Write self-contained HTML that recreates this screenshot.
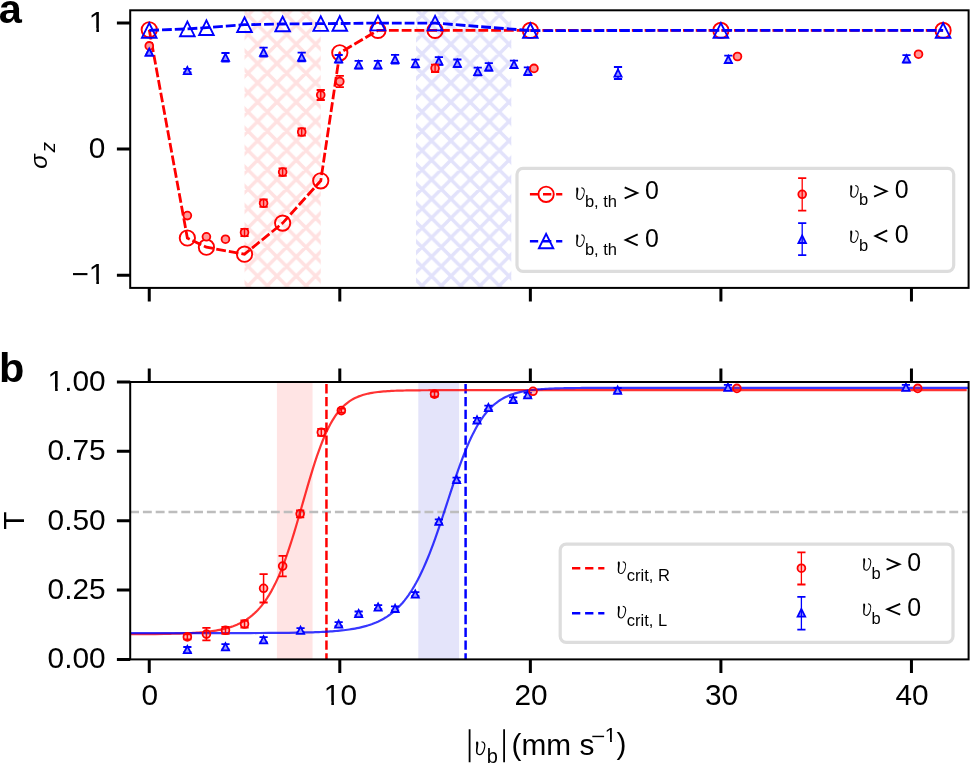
<!DOCTYPE html><html><head><meta charset="utf-8"><title>figure</title><style>html,body{margin:0;padding:0;background:#fff;overflow:hidden;}svg{display:block;will-change:transform;}text{font-family:"Liberation Sans",sans-serif;}</style></head><body>
<svg width="970" height="764" viewBox="0 0 970 764">
<defs>
<pattern id="hr" patternUnits="userSpaceOnUse" x="15.98" y="15.15" width="19.33" height="19.33"><path d="M-9.66 -9.66L28.99 28.99M-9.66 9.66L9.66 28.99M9.66 -9.66L28.99 9.66M-9.66 28.99L28.99 -9.66M-9.66 9.66L9.66 -9.66M9.66 28.99L28.99 9.66" stroke="#ffe1e1" stroke-width="3.5" fill="none"/></pattern>
<pattern id="hb" patternUnits="userSpaceOnUse" x="15.98" y="15.15" width="19.33" height="19.33"><path d="M-9.66 -9.66L28.99 28.99M-9.66 9.66L9.66 28.99M9.66 -9.66L28.99 9.66M-9.66 28.99L28.99 -9.66M-9.66 9.66L9.66 -9.66M9.66 28.99L28.99 9.66" stroke="#e2e2fb" stroke-width="3.5" fill="none"/></pattern>
<clipPath id="ca"><rect x="130.2" y="10.3" width="838.4" height="277.6"/></clipPath>
<clipPath id="cb"><rect x="130.2" y="382" width="838.4" height="277.4"/></clipPath>
</defs>
<g clip-path="url(#ca)">
<rect x="244.53" y="10.3" width="76.22" height="277.6" fill="url(#hr)"/>
<rect x="416.02" y="10.3" width="95.28" height="277.6" fill="url(#hb)"/>
<polyline points="149.25,29.8 187.36,238 206.42,247.2 244.53,254.2 282.64,223.1 320.75,180.8 339.8,52.8 377.91,30.4 435.08,30.4 530.36,30.4" fill="none" stroke="#ff0000" stroke-width="2.8" stroke-dasharray="9.8 2.98"/>
<polyline points="530.36,30.4 720.9,30.4 943.09,30.4" fill="none" stroke="#ff0000" stroke-width="2.8" stroke-dasharray="9.8 2.98" stroke-dashoffset="0.75"/>
<circle cx="149.25" cy="29.8" r="7.65" fill="none" stroke="#ff0000" stroke-width="1.9"/>
<circle cx="187.36" cy="238" r="7.65" fill="none" stroke="#ff0000" stroke-width="1.9"/>
<circle cx="206.42" cy="247.2" r="7.65" fill="none" stroke="#ff0000" stroke-width="1.9"/>
<circle cx="244.53" cy="254.2" r="7.65" fill="none" stroke="#ff0000" stroke-width="1.9"/>
<circle cx="282.64" cy="223.1" r="7.65" fill="none" stroke="#ff0000" stroke-width="1.9"/>
<circle cx="320.75" cy="180.8" r="7.65" fill="none" stroke="#ff0000" stroke-width="1.9"/>
<circle cx="339.8" cy="52.8" r="7.65" fill="none" stroke="#ff0000" stroke-width="1.9"/>
<circle cx="377.91" cy="30.4" r="7.65" fill="none" stroke="#ff0000" stroke-width="1.9"/>
<circle cx="435.08" cy="30.4" r="7.65" fill="none" stroke="#ff0000" stroke-width="1.9"/>
<circle cx="530.36" cy="30.4" r="7.65" fill="none" stroke="#ff0000" stroke-width="1.9"/>
<circle cx="720.9" cy="30.4" r="7.65" fill="none" stroke="#ff0000" stroke-width="1.9"/>
<circle cx="943.09" cy="30.4" r="7.65" fill="none" stroke="#ff0000" stroke-width="1.9"/>
<polyline points="149.25,30.4 187.36,28.9 206.42,27.7 244.53,24.7 282.64,24 320.75,23.6 339.8,23.5 377.91,23.1 435.08,23.1 530.36,30.6" fill="none" stroke="#0000ff" stroke-width="2.8" stroke-dasharray="9.8 2.98"/>
<polyline points="530.36,30.6 720.9,30.4 943.09,30.4" fill="none" stroke="#0000ff" stroke-width="2.8" stroke-dasharray="9.8 2.98" stroke-dashoffset="-0.25"/>
<path d="M149.25 23.1L141.95 37.7L156.56 37.7Z" fill="none" stroke="#0000ff" stroke-width="1.9"/>
<path d="M187.36 21.6L180.06 36.2L194.66 36.2Z" fill="none" stroke="#0000ff" stroke-width="1.9"/>
<path d="M206.42 20.4L199.12 35L213.72 35Z" fill="none" stroke="#0000ff" stroke-width="1.9"/>
<path d="M244.53 17.4L237.23 32L251.83 32Z" fill="none" stroke="#0000ff" stroke-width="1.9"/>
<path d="M282.64 16.7L275.34 31.3L289.94 31.3Z" fill="none" stroke="#0000ff" stroke-width="1.9"/>
<path d="M320.75 16.3L313.45 30.9L328.05 30.9Z" fill="none" stroke="#0000ff" stroke-width="1.9"/>
<path d="M339.8 16.2L332.5 30.8L347.1 30.8Z" fill="none" stroke="#0000ff" stroke-width="1.9"/>
<path d="M377.91 15.8L370.61 30.4L385.21 30.4Z" fill="none" stroke="#0000ff" stroke-width="1.9"/>
<path d="M435.08 15.8L427.78 30.4L442.38 30.4Z" fill="none" stroke="#0000ff" stroke-width="1.9"/>
<path d="M530.36 23.3L523.06 37.9L537.65 37.9Z" fill="none" stroke="#0000ff" stroke-width="1.9"/>
<path d="M720.9 23.1L713.61 37.7L728.2 37.7Z" fill="none" stroke="#0000ff" stroke-width="1.9"/>
<path d="M943.09 23.1L935.79 37.7L950.39 37.7Z" fill="none" stroke="#0000ff" stroke-width="1.9"/>

<path d="M149.25 48.5L145.66 55.7L152.85 55.7Z" fill="#9999ff" stroke="#0000ff" stroke-width="1.8"/>
<path d="M187.36 68.8L187.36 72.4" stroke="#0000ff" stroke-width="1.5"/><path d="M183.26 68.8L191.46 68.8M183.26 72.4L191.46 72.4" stroke="#0000ff" stroke-width="1.8"/>
<path d="M187.36 67L183.76 74.2L190.96 74.2Z" fill="#9999ff" stroke="#0000ff" stroke-width="1.8"/>
<path d="M225.47 53L225.47 61.6" stroke="#0000ff" stroke-width="1.5"/><path d="M221.38 53L229.57 53M221.38 61.6L229.57 61.6" stroke="#0000ff" stroke-width="1.8"/>
<path d="M225.47 53.7L221.88 60.9L229.07 60.9Z" fill="#9999ff" stroke="#0000ff" stroke-width="1.8"/>
<path d="M263.58 47.7L263.58 56.7" stroke="#0000ff" stroke-width="1.5"/><path d="M259.48 47.7L267.69 47.7M259.48 56.7L267.69 56.7" stroke="#0000ff" stroke-width="1.8"/>
<path d="M263.58 48.6L259.98 55.8L267.19 55.8Z" fill="#9999ff" stroke="#0000ff" stroke-width="1.8"/>
<path d="M301.69 52.7L301.69 61.3" stroke="#0000ff" stroke-width="1.5"/><path d="M297.59 52.7L305.8 52.7M297.59 61.3L305.8 61.3" stroke="#0000ff" stroke-width="1.8"/>
<path d="M301.69 53.4L298.09 60.6L305.3 60.6Z" fill="#9999ff" stroke="#0000ff" stroke-width="1.8"/>
<path d="M338.66 55L338.66 62.6" stroke="#0000ff" stroke-width="1.5"/><path d="M334.56 55L342.76 55M334.56 62.6L342.76 62.6" stroke="#0000ff" stroke-width="1.8"/>
<path d="M338.66 55.2L335.06 62.4L342.26 62.4Z" fill="#9999ff" stroke="#0000ff" stroke-width="1.8"/>
<path d="M358.67 60.9L358.67 68.5" stroke="#0000ff" stroke-width="1.5"/><path d="M354.57 60.9L362.77 60.9M354.57 68.5L362.77 68.5" stroke="#0000ff" stroke-width="1.8"/>
<path d="M358.67 61.1L355.07 68.3L362.27 68.3Z" fill="#9999ff" stroke="#0000ff" stroke-width="1.8"/>
<path d="M377.91 60.9L377.91 68.5" stroke="#0000ff" stroke-width="1.5"/><path d="M373.81 60.9L382.01 60.9M373.81 68.5L382.01 68.5" stroke="#0000ff" stroke-width="1.8"/>
<path d="M377.91 61.1L374.31 68.3L381.51 68.3Z" fill="#9999ff" stroke="#0000ff" stroke-width="1.8"/>
<path d="M395.06 54.9L395.06 63.5" stroke="#0000ff" stroke-width="1.5"/><path d="M390.96 54.9L399.16 54.9M390.96 63.5L399.16 63.5" stroke="#0000ff" stroke-width="1.8"/>
<path d="M395.06 55.6L391.46 62.8L398.66 62.8Z" fill="#9999ff" stroke="#0000ff" stroke-width="1.8"/>
<path d="M415.45 59.7L415.45 67.3" stroke="#0000ff" stroke-width="1.5"/><path d="M411.35 59.7L419.55 59.7M411.35 67.3L419.55 67.3" stroke="#0000ff" stroke-width="1.8"/>
<path d="M415.45 59.9L411.85 67.1L419.05 67.1Z" fill="#9999ff" stroke="#0000ff" stroke-width="1.8"/>
<path d="M438.89 57.2L438.89 64.8" stroke="#0000ff" stroke-width="1.5"/><path d="M434.79 57.2L442.99 57.2M434.79 64.8L442.99 64.8" stroke="#0000ff" stroke-width="1.8"/>
<path d="M438.89 57.4L435.29 64.6L442.49 64.6Z" fill="#9999ff" stroke="#0000ff" stroke-width="1.8"/>
<path d="M457.37 59.5L457.37 67.1" stroke="#0000ff" stroke-width="1.5"/><path d="M453.27 59.5L461.47 59.5M453.27 67.1L461.47 67.1" stroke="#0000ff" stroke-width="1.8"/>
<path d="M457.37 59.7L453.77 66.9L460.97 66.9Z" fill="#9999ff" stroke="#0000ff" stroke-width="1.8"/>
<path d="M477.76 67.7L477.76 75.3" stroke="#0000ff" stroke-width="1.5"/><path d="M473.66 67.7L481.86 67.7M473.66 75.3L481.86 75.3" stroke="#0000ff" stroke-width="1.8"/>
<path d="M477.76 67.9L474.16 75.1L481.36 75.1Z" fill="#9999ff" stroke="#0000ff" stroke-width="1.8"/>
<path d="M488.82 63.1L488.82 70.7" stroke="#0000ff" stroke-width="1.5"/><path d="M484.72 63.1L492.92 63.1M484.72 70.7L492.92 70.7" stroke="#0000ff" stroke-width="1.8"/>
<path d="M488.82 63.3L485.22 70.5L492.42 70.5Z" fill="#9999ff" stroke="#0000ff" stroke-width="1.8"/>
<path d="M513.97 60.6L513.97 68.2" stroke="#0000ff" stroke-width="1.5"/><path d="M509.87 60.6L518.07 60.6M509.87 68.2L518.07 68.2" stroke="#0000ff" stroke-width="1.8"/>
<path d="M513.97 60.8L510.37 68L517.57 68Z" fill="#9999ff" stroke="#0000ff" stroke-width="1.8"/>
<path d="M527.88 67.4L527.88 75" stroke="#0000ff" stroke-width="1.5"/><path d="M523.78 67.4L531.98 67.4M523.78 75L531.98 75" stroke="#0000ff" stroke-width="1.8"/>
<path d="M527.88 67.6L524.28 74.8L531.48 74.8Z" fill="#9999ff" stroke="#0000ff" stroke-width="1.8"/>
<path d="M618.01 67L618.01 79" stroke="#0000ff" stroke-width="1.5"/><path d="M613.91 67L622.11 67M613.91 79L622.11 79" stroke="#0000ff" stroke-width="1.8"/>
<path d="M618.01 69.4L614.41 76.6L621.61 76.6Z" fill="#9999ff" stroke="#0000ff" stroke-width="1.8"/>
<path d="M728.34 55.6L728.34 63.2" stroke="#0000ff" stroke-width="1.5"/><path d="M724.24 55.6L732.44 55.6M724.24 63.2L732.44 63.2" stroke="#0000ff" stroke-width="1.8"/>
<path d="M728.34 55.8L724.74 63L731.94 63Z" fill="#9999ff" stroke="#0000ff" stroke-width="1.8"/>
<path d="M906.5 55.1L906.5 62.5" stroke="#0000ff" stroke-width="1.5"/><path d="M902.4 55.1L910.6 55.1M902.4 62.5L910.6 62.5" stroke="#0000ff" stroke-width="1.8"/>
<path d="M906.5 55.2L902.9 62.4L910.1 62.4Z" fill="#9999ff" stroke="#0000ff" stroke-width="1.8"/>
<circle cx="149.25" cy="45.9" r="3.9" fill="#ff9999" stroke="#ff0000" stroke-width="1.8"/>
<circle cx="187.36" cy="215.6" r="3.9" fill="#ff9999" stroke="#ff0000" stroke-width="1.8"/>
<circle cx="206.42" cy="236.8" r="3.9" fill="#ff9999" stroke="#ff0000" stroke-width="1.8"/>
<circle cx="225.47" cy="239.2" r="3.9" fill="#ff9999" stroke="#ff0000" stroke-width="1.8"/>
<path d="M244.53 228.8L244.53 236.2" stroke="#ff0000" stroke-width="1.5"/><path d="M240.43 228.8L248.63 228.8M240.43 236.2L248.63 236.2" stroke="#ff0000" stroke-width="1.8"/>
<circle cx="244.53" cy="232.5" r="3.9" fill="#ff9999" stroke="#ff0000" stroke-width="1.8"/>
<path d="M244.53 228.8L244.53 236.2" stroke="#ff0000" stroke-width="1.4"/>
<path d="M263.58 199.5L263.58 206.9" stroke="#ff0000" stroke-width="1.5"/><path d="M259.48 199.5L267.69 199.5M259.48 206.9L267.69 206.9" stroke="#ff0000" stroke-width="1.8"/>
<circle cx="263.58" cy="203.2" r="3.9" fill="#ff9999" stroke="#ff0000" stroke-width="1.8"/>
<path d="M263.58 199.5L263.58 206.9" stroke="#ff0000" stroke-width="1.4"/>
<path d="M282.64 168.4L282.64 175.8" stroke="#ff0000" stroke-width="1.5"/><path d="M278.54 168.4L286.74 168.4M278.54 175.8L286.74 175.8" stroke="#ff0000" stroke-width="1.8"/>
<circle cx="282.64" cy="172.1" r="3.9" fill="#ff9999" stroke="#ff0000" stroke-width="1.8"/>
<path d="M282.64 168.4L282.64 175.8" stroke="#ff0000" stroke-width="1.4"/>
<path d="M301.69 128.3L301.69 135.7" stroke="#ff0000" stroke-width="1.5"/><path d="M297.59 128.3L305.8 128.3M297.59 135.7L305.8 135.7" stroke="#ff0000" stroke-width="1.8"/>
<circle cx="301.69" cy="132" r="3.9" fill="#ff9999" stroke="#ff0000" stroke-width="1.8"/>
<path d="M301.69 128.3L301.69 135.7" stroke="#ff0000" stroke-width="1.4"/>
<path d="M320.75 90L320.75 100" stroke="#ff0000" stroke-width="1.5"/><path d="M316.65 90L324.85 90M316.65 100L324.85 100" stroke="#ff0000" stroke-width="1.8"/>
<circle cx="320.75" cy="95" r="3.9" fill="#ff9999" stroke="#ff0000" stroke-width="1.8"/>
<path d="M320.75 90L320.75 100" stroke="#ff0000" stroke-width="1.4"/>
<path d="M339.8 75.8L339.8 87.2" stroke="#ff0000" stroke-width="1.5"/><path d="M335.7 75.8L343.9 75.8M335.7 87.2L343.9 87.2" stroke="#ff0000" stroke-width="1.8"/>
<circle cx="339.8" cy="81.5" r="3.9" fill="#ff9999" stroke="#ff0000" stroke-width="1.8"/>
<path d="M435.08 64.6L435.08 72" stroke="#ff0000" stroke-width="1.5"/><path d="M430.98 64.6L439.18 64.6M430.98 72L439.18 72" stroke="#ff0000" stroke-width="1.8"/>
<circle cx="435.08" cy="68.3" r="3.9" fill="#ff9999" stroke="#ff0000" stroke-width="1.8"/>
<path d="M435.08 64.6L435.08 72" stroke="#ff0000" stroke-width="1.4"/>
<circle cx="533.98" cy="68.4" r="3.9" fill="#ff9999" stroke="#ff0000" stroke-width="1.8"/>
<circle cx="737.48" cy="56.5" r="3.9" fill="#ff9999" stroke="#ff0000" stroke-width="1.8"/>
<circle cx="918.51" cy="54.2" r="3.9" fill="#ff9999" stroke="#ff0000" stroke-width="1.8"/>

<path d="M149.25 48.5L145.66 55.7L152.85 55.7Z" fill="#9999ff" stroke="#0000ff" stroke-width="1.8"/>
</g>
<rect x="517" y="168.3" width="436.7" height="103" rx="6" fill="rgba(255,255,255,0.8)" stroke="#dddddd" stroke-width="3.2"/>
<path d="M529.9 194.3L562.3 194.3" stroke="#ff0000" stroke-width="2.4" stroke-dasharray="8.3 4.8"/>
<circle cx="546.1" cy="194.3" r="7.65" fill="none" stroke="#ff0000" stroke-width="1.9"/>
<path d="M529.9 241.3L562.3 241.3" stroke="#0000ff" stroke-width="2.4" stroke-dasharray="8.3 4.8"/>
<path d="M546.1 233.9L538.9 248.3L553.3 248.3Z" fill="none" stroke="#0000ff" stroke-width="1.9"/>
<path d="M802.2 178.1L802.2 210.7" stroke="#ff0000" stroke-width="1.3"/><path d="M798.1 178.1L806.3 178.1M798.1 210.7L806.3 210.7" stroke="#ff0000" stroke-width="1.8"/>
<circle cx="802.2" cy="194.3" r="3.9" fill="rgba(255,0,0,0.4)" stroke="#ff0000" stroke-width="1.8"/>
<path d="M802.2 223.1L802.2 255.2" stroke="#0000ff" stroke-width="1.3"/><path d="M798.1 223.1L806.3 223.1M798.1 255.2L806.3 255.2" stroke="#0000ff" stroke-width="1.8"/>
<path d="M802.2 235.4L798.4 243L806 243Z" fill="rgba(0,0,255,0.4)" stroke="#0000ff" stroke-width="1.8"/>
<g clip-path="url(#cb)">
<rect x="276.92" y="382" width="35.63" height="277.4" fill="#ffe4e4"/>
<rect x="418.31" y="382" width="40.78" height="277.4" fill="#e4e4fa"/>
<path d="M130.2 512L968.6 512" stroke="#bdbdbd" stroke-width="2.6" stroke-dasharray="8.9 3.9" stroke-dashoffset="0.1"/>
<path d="M326.45 382L326.45 659.4" stroke="#ff0000" stroke-width="2.5" stroke-dasharray="9.3 3.52" stroke-dashoffset="-2.1"/>
<path d="M465.6 382L465.6 659.4" stroke="#0000ff" stroke-width="2.5" stroke-dasharray="9.3 3.52" stroke-dashoffset="-2.1"/>
<polyline points="126.39,634.23 135.92,634.19 145.44,634.14 154.97,634.06 164.5,633.93 166.4,633.89 168.31,633.86 170.22,633.82 172.12,633.77 174.03,633.73 175.93,633.68 177.84,633.62 179.74,633.56 181.65,633.49 183.55,633.42 185.46,633.34 187.37,633.26 189.27,633.17 191.18,633.06 193.08,632.95 194.99,632.83 196.89,632.7 198.8,632.56 200.7,632.4 202.61,632.23 204.51,632.05 206.42,631.85 208.33,631.63 210.23,631.39 212.14,631.13 214.04,630.85 215.95,630.54 217.85,630.2 219.76,629.83 221.66,629.44 223.57,629 225.48,628.53 227.38,628.01 229.29,627.45 231.19,626.84 233.1,626.18 235,625.45 236.91,624.67 238.81,623.81 240.72,622.88 242.62,621.87 244.53,620.77 246.44,619.58 248.34,618.28 250.25,616.88 252.15,615.35 254.06,613.7 255.96,611.91 257.87,609.97 259.77,607.87 261.68,605.61 263.58,603.16 265.49,600.52 267.4,597.69 269.3,594.64 271.21,591.36 273.11,587.86 275.02,584.11 276.92,580.11 278.83,575.85 280.73,571.34 282.64,566.57 284.55,561.54 286.45,556.25 288.36,550.72 290.26,544.96 292.17,538.98 294.07,532.81 295.98,526.47 297.88,520 299.79,513.42 301.69,506.78 303.6,500.12 305.51,493.48 307.41,486.89 309.32,480.41 311.22,474.06 313.13,467.9 315.03,461.94 316.94,456.22 318.84,450.77 320.75,445.6 322.66,440.73 324.56,436.15 326.47,431.89 328.37,427.92 330.28,424.26 332.18,420.89 334.09,417.8 335.99,414.97 337.9,412.4 339.8,410.07 341.71,407.95 343.62,406.04 345.52,404.33 347.43,402.78 349.33,401.39 351.24,400.15 353.14,399.04 355.05,398.04 356.95,397.16 358.86,396.37 360.77,395.67 362.67,395.04 364.58,394.48 366.48,393.99 368.39,393.55 370.29,393.16 372.2,392.82 374.1,392.51 376.01,392.24 377.91,392 379.82,391.79 381.73,391.6 383.63,391.43 385.54,391.28 387.44,391.15 389.35,391.04 391.25,390.94 393.16,390.84 395.06,390.76 396.97,390.69 398.88,390.63 400.78,390.58 402.69,390.53 404.59,390.48 406.5,390.45 408.4,390.41 410.31,390.38 412.21,390.36 414.12,390.33 416.02,390.31 417.93,390.29 419.84,390.28 421.74,390.26 423.65,390.25 425.55,390.24 427.46,390.23 429.36,390.22 431.27,390.21 433.17,390.21 435.08,390.2 436.99,390.2 438.89,390.19 440.8,390.19 442.7,390.18 444.61,390.18 446.51,390.18 448.42,390.17 450.32,390.17 452.23,390.17 454.13,390.17 456.04,390.17 457.95,390.17 459.85,390.16 461.76,390.16 471.28,390.16 480.81,390.16 490.34,390.16 499.87,390.16 509.39,390.16 518.92,390.16 528.45,390.16 537.98,390.16 547.5,390.16 557.03,390.16 566.56,390.16 576.09,390.16 585.61,390.16 595.14,390.16 604.67,390.16 614.2,390.16 623.72,390.16 633.25,390.16 642.78,390.16 652.31,390.16 661.83,390.16 671.36,390.16 680.89,390.16 690.42,390.16 699.94,390.16 709.47,390.16 719,390.16 728.53,390.16 738.05,390.16 747.58,390.16 757.11,390.16 766.64,390.16 776.16,390.16 785.69,390.16 795.22,390.16 804.75,390.16 814.27,390.16 823.8,390.16 833.33,390.16 842.86,390.16 852.38,390.16 861.91,390.16 871.44,390.16 880.97,390.16 890.49,390.16 900.02,390.16 909.55,390.16 919.08,390.16 928.6,390.16 938.13,390.16 947.66,390.16 957.19,390.16 966.71,390.16" fill="none" stroke="rgba(255,0,0,0.8)" stroke-width="2.2"/>
<polyline points="126.39,633.1 135.92,633.1 145.44,633.1 154.97,633.1 164.5,633.1 174.03,633.1 183.55,633.1 193.08,633.1 202.61,633.09 212.14,633.09 221.66,633.08 231.19,633.07 240.72,633.06 250.25,633.04 259.77,633.01 269.3,632.96 278.83,632.9 288.36,632.8 297.88,632.66 307.41,632.45 309.32,632.4 311.22,632.34 313.13,632.28 315.03,632.21 316.94,632.14 318.84,632.06 320.75,631.98 322.66,631.89 324.56,631.79 326.47,631.68 328.37,631.57 330.28,631.44 332.18,631.31 334.09,631.16 335.99,631.01 337.9,630.84 339.8,630.66 341.71,630.46 343.62,630.25 345.52,630.02 347.43,629.77 349.33,629.5 351.24,629.21 353.14,628.89 355.05,628.56 356.95,628.19 358.86,627.8 360.77,627.37 362.67,626.91 364.58,626.41 366.48,625.88 368.39,625.3 370.29,624.67 372.2,624 374.1,623.27 376.01,622.49 377.91,621.65 379.82,620.74 381.73,619.76 383.63,618.7 385.54,617.57 387.44,616.34 389.35,615.03 391.25,613.61 393.16,612.09 395.06,610.46 396.97,608.71 398.88,606.83 400.78,604.82 402.69,602.67 404.59,600.37 406.5,597.91 408.4,595.29 410.31,592.49 412.21,589.52 414.12,586.36 416.02,583.02 417.93,579.48 419.84,575.74 421.74,571.8 423.65,567.66 425.55,563.31 427.46,558.78 429.36,554.04 431.27,549.13 433.17,544.04 435.08,538.78 436.99,533.38 438.89,527.85 440.8,522.21 442.7,516.48 444.61,510.69 446.51,504.86 448.42,499.02 450.32,493.2 452.23,487.42 454.13,481.71 456.04,476.11 457.95,470.62 459.85,465.29 461.76,460.11 463.66,455.13 465.57,450.34 467.47,445.77 469.38,441.41 471.28,437.28 473.19,433.38 475.1,429.72 477,426.28 478.91,423.06 480.81,420.07 482.72,417.29 484.62,414.71 486.53,412.33 488.43,410.13 490.34,408.11 492.25,406.25 494.15,404.55 496.06,403 497.96,401.58 499.87,400.28 501.77,399.1 503.68,398.02 505.58,397.04 507.49,396.16 509.39,395.35 511.3,394.62 513.21,393.96 515.11,393.36 517.02,392.82 518.92,392.33 520.83,391.89 522.73,391.49 524.64,391.12 526.54,390.8 528.45,390.5 530.36,390.24 532.26,390 534.17,389.78 536.07,389.59 537.98,389.41 539.88,389.26 541.79,389.11 543.69,388.98 545.6,388.87 547.5,388.76 549.41,388.67 551.32,388.59 553.22,388.51 555.13,388.44 557.03,388.38 558.94,388.32 560.84,388.27 562.75,388.23 564.65,388.19 566.56,388.15 568.47,388.12 570.37,388.09 572.28,388.06 574.18,388.04 576.09,388.02 577.99,388 579.9,387.98 581.8,387.97 583.71,387.95 585.61,387.94 587.52,387.93 589.43,387.92 591.33,387.91 593.24,387.9 595.14,387.89 597.05,387.89 598.95,387.88 600.86,387.87 602.76,387.87 604.67,387.87 606.58,387.86 616.1,387.85 625.63,387.84 635.16,387.83 644.69,387.83 654.21,387.83 663.74,387.83 673.27,387.83 682.8,387.83 692.32,387.83 701.85,387.83 711.38,387.83 720.91,387.83 730.43,387.83 739.96,387.83 749.49,387.83 759.02,387.83 768.54,387.83 778.07,387.83 787.6,387.83 797.13,387.83 806.65,387.83 816.18,387.83 825.71,387.83 835.24,387.83 844.76,387.83 854.29,387.83 863.82,387.83 873.35,387.83 882.87,387.83 892.4,387.83 901.93,387.83 911.46,387.83 920.98,387.83 930.51,387.83 940.04,387.83 949.57,387.83 959.09,387.83 968.62,387.83" fill="none" stroke="rgba(0,0,255,0.78)" stroke-width="2.2"/>
<path d="M187.36 647L187.36 652.2" stroke="#0000ff" stroke-width="1.5"/><path d="M183.26 647L191.46 647M183.26 652.2L191.46 652.2" stroke="#0000ff" stroke-width="1.8"/>
<path d="M187.36 646L183.76 653.2L190.96 653.2Z" fill="#9999ff" stroke="#0000ff" stroke-width="1.8"/>
<path d="M225.47 644.2L225.47 649.4" stroke="#0000ff" stroke-width="1.5"/><path d="M221.38 644.2L229.57 644.2M221.38 649.4L229.57 649.4" stroke="#0000ff" stroke-width="1.8"/>
<path d="M225.47 643.2L221.88 650.4L229.07 650.4Z" fill="#9999ff" stroke="#0000ff" stroke-width="1.8"/>
<path d="M263.58 637.2L263.58 642.4" stroke="#0000ff" stroke-width="1.5"/><path d="M259.48 637.2L267.69 637.2M259.48 642.4L267.69 642.4" stroke="#0000ff" stroke-width="1.8"/>
<path d="M263.58 636.2L259.98 643.4L267.19 643.4Z" fill="#9999ff" stroke="#0000ff" stroke-width="1.8"/>
<path d="M300.55 628.1L300.55 632.5" stroke="#0000ff" stroke-width="1.5"/><path d="M296.45 628.1L304.65 628.1M296.45 632.5L304.65 632.5" stroke="#0000ff" stroke-width="1.8"/>
<path d="M300.55 626.7L296.95 633.9L304.15 633.9Z" fill="#9999ff" stroke="#0000ff" stroke-width="1.8"/>
<path d="M338.66 622.1L338.66 626.1" stroke="#0000ff" stroke-width="1.5"/><path d="M334.56 622.1L342.76 622.1M334.56 626.1L342.76 626.1" stroke="#0000ff" stroke-width="1.8"/>
<path d="M338.66 620.5L335.06 627.7L342.26 627.7Z" fill="#9999ff" stroke="#0000ff" stroke-width="1.8"/>
<path d="M358.67 611.5L358.67 615.5" stroke="#0000ff" stroke-width="1.5"/><path d="M354.57 611.5L362.77 611.5M354.57 615.5L362.77 615.5" stroke="#0000ff" stroke-width="1.8"/>
<path d="M358.67 609.9L355.07 617.1L362.27 617.1Z" fill="#9999ff" stroke="#0000ff" stroke-width="1.8"/>
<path d="M378.11 605.1L378.11 609.1" stroke="#0000ff" stroke-width="1.5"/><path d="M374.01 605.1L382.21 605.1M374.01 609.1L382.21 609.1" stroke="#0000ff" stroke-width="1.8"/>
<path d="M378.11 603.5L374.51 610.7L381.71 610.7Z" fill="#9999ff" stroke="#0000ff" stroke-width="1.8"/>
<path d="M395.06 606.4L395.06 610.4" stroke="#0000ff" stroke-width="1.5"/><path d="M390.96 606.4L399.16 606.4M390.96 610.4L399.16 610.4" stroke="#0000ff" stroke-width="1.8"/>
<path d="M395.06 604.8L391.46 612L398.66 612Z" fill="#9999ff" stroke="#0000ff" stroke-width="1.8"/>
<path d="M415.26 592.1L415.26 596.1" stroke="#0000ff" stroke-width="1.5"/><path d="M411.16 592.1L419.36 592.1M411.16 596.1L419.36 596.1" stroke="#0000ff" stroke-width="1.8"/>
<path d="M415.26 590.5L411.66 597.7L418.86 597.7Z" fill="#9999ff" stroke="#0000ff" stroke-width="1.8"/>
<path d="M438.89 519.3L438.89 523.3" stroke="#0000ff" stroke-width="1.5"/><path d="M434.79 519.3L442.99 519.3M434.79 523.3L442.99 523.3" stroke="#0000ff" stroke-width="1.8"/>
<path d="M438.89 517.7L435.29 524.9L442.49 524.9Z" fill="#9999ff" stroke="#0000ff" stroke-width="1.8"/>
<path d="M456.61 477.6L456.61 481.6" stroke="#0000ff" stroke-width="1.5"/><path d="M452.51 477.6L460.71 477.6M452.51 481.6L460.71 481.6" stroke="#0000ff" stroke-width="1.8"/>
<path d="M456.61 476L453.01 483.2L460.21 483.2Z" fill="#9999ff" stroke="#0000ff" stroke-width="1.8"/>
<path d="M477 417.9L477 421.9" stroke="#0000ff" stroke-width="1.5"/><path d="M472.9 417.9L481.1 417.9M472.9 421.9L481.1 421.9" stroke="#0000ff" stroke-width="1.8"/>
<path d="M477 416.3L473.4 423.5L480.6 423.5Z" fill="#9999ff" stroke="#0000ff" stroke-width="1.8"/>
<path d="M488.43 405.6L488.43 409.6" stroke="#0000ff" stroke-width="1.5"/><path d="M484.33 405.6L492.53 405.6M484.33 409.6L492.53 409.6" stroke="#0000ff" stroke-width="1.8"/>
<path d="M488.43 404L484.83 411.2L492.03 411.2Z" fill="#9999ff" stroke="#0000ff" stroke-width="1.8"/>
<path d="M513.21 397.4L513.21 401.4" stroke="#0000ff" stroke-width="1.5"/><path d="M509.11 397.4L517.31 397.4M509.11 401.4L517.31 401.4" stroke="#0000ff" stroke-width="1.8"/>
<path d="M513.21 395.8L509.61 403L516.81 403Z" fill="#9999ff" stroke="#0000ff" stroke-width="1.8"/>
<path d="M527.69 392.8L527.69 396.8" stroke="#0000ff" stroke-width="1.5"/><path d="M523.59 392.8L531.79 392.8M523.59 396.8L531.79 396.8" stroke="#0000ff" stroke-width="1.8"/>
<path d="M527.69 391.2L524.09 398.4L531.29 398.4Z" fill="#9999ff" stroke="#0000ff" stroke-width="1.8"/>
<path d="M617.63 388L617.63 392.4" stroke="#0000ff" stroke-width="1.5"/><path d="M613.53 388L621.73 388M613.53 392.4L621.73 392.4" stroke="#0000ff" stroke-width="1.8"/>
<path d="M617.63 386.6L614.03 393.8L621.23 393.8Z" fill="#9999ff" stroke="#0000ff" stroke-width="1.8"/>
<path d="M727.96 384.8L727.96 389.8" stroke="#0000ff" stroke-width="1.5"/><path d="M723.86 384.8L732.06 384.8M723.86 389.8L732.06 389.8" stroke="#0000ff" stroke-width="1.8"/>
<path d="M727.96 383.7L724.36 390.9L731.56 390.9Z" fill="#9999ff" stroke="#0000ff" stroke-width="1.8"/>
<path d="M905.93 384.8L905.93 389.8" stroke="#0000ff" stroke-width="1.5"/><path d="M901.83 384.8L910.03 384.8M901.83 389.8L910.03 389.8" stroke="#0000ff" stroke-width="1.8"/>
<path d="M905.93 383.7L902.33 390.9L909.53 390.9Z" fill="#9999ff" stroke="#0000ff" stroke-width="1.8"/>
<path d="M187.36 634.4L187.36 639.4" stroke="#ff0000" stroke-width="1.5"/><path d="M183.26 634.4L191.46 634.4M183.26 639.4L191.46 639.4" stroke="#ff0000" stroke-width="1.8"/>
<circle cx="187.36" cy="636.9" r="3.9" fill="rgba(255,0,0,0.25)" stroke="#ff0000" stroke-width="1.8"/>
<path d="M206.42 627.8L206.42 640.4" stroke="#ff0000" stroke-width="1.5"/><path d="M202.32 627.8L210.52 627.8M202.32 640.4L210.52 640.4" stroke="#ff0000" stroke-width="1.8"/>
<circle cx="206.42" cy="634.1" r="3.9" fill="rgba(255,0,0,0.25)" stroke="#ff0000" stroke-width="1.8"/>
<path d="M225.47 626.8L225.47 633.8" stroke="#ff0000" stroke-width="1.5"/><path d="M221.38 626.8L229.57 626.8M221.38 633.8L229.57 633.8" stroke="#ff0000" stroke-width="1.8"/>
<circle cx="225.47" cy="630.3" r="3.9" fill="rgba(255,0,0,0.25)" stroke="#ff0000" stroke-width="1.8"/>
<path d="M244.53 620.5L244.53 627.5" stroke="#ff0000" stroke-width="1.5"/><path d="M240.43 620.5L248.63 620.5M240.43 627.5L248.63 627.5" stroke="#ff0000" stroke-width="1.8"/>
<circle cx="244.53" cy="624" r="3.9" fill="rgba(255,0,0,0.25)" stroke="#ff0000" stroke-width="1.8"/>
<path d="M263.58 574.1L263.58 602.5" stroke="#ff0000" stroke-width="1.5"/><path d="M259.48 574.1L267.69 574.1M259.48 602.5L267.69 602.5" stroke="#ff0000" stroke-width="1.8"/>
<circle cx="263.58" cy="588.3" r="3.9" fill="rgba(255,0,0,0.25)" stroke="#ff0000" stroke-width="1.8"/>
<path d="M282.64 555.9L282.64 576.3" stroke="#ff0000" stroke-width="1.5"/><path d="M278.54 555.9L286.74 555.9M278.54 576.3L286.74 576.3" stroke="#ff0000" stroke-width="1.8"/>
<circle cx="282.64" cy="566.1" r="3.9" fill="rgba(255,0,0,0.25)" stroke="#ff0000" stroke-width="1.8"/>
<path d="M300.17 510.3L300.17 517.3" stroke="#ff0000" stroke-width="1.5"/><path d="M296.07 510.3L304.27 510.3M296.07 517.3L304.27 517.3" stroke="#ff0000" stroke-width="1.8"/>
<circle cx="300.17" cy="513.8" r="3.9" fill="rgba(255,0,0,0.25)" stroke="#ff0000" stroke-width="1.8"/>
<path d="M321.32 428.8L321.32 435.8" stroke="#ff0000" stroke-width="1.5"/><path d="M317.22 428.8L325.42 428.8M317.22 435.8L325.42 435.8" stroke="#ff0000" stroke-width="1.8"/>
<circle cx="321.32" cy="432.3" r="3.9" fill="rgba(255,0,0,0.25)" stroke="#ff0000" stroke-width="1.8"/>
<path d="M341.33 408.6L341.33 412.6" stroke="#ff0000" stroke-width="1.5"/><path d="M337.23 408.6L345.43 408.6M337.23 412.6L345.43 412.6" stroke="#ff0000" stroke-width="1.8"/>
<circle cx="341.33" cy="410.6" r="3.9" fill="rgba(255,0,0,0.25)" stroke="#ff0000" stroke-width="1.8"/>
<path d="M434.51 391.6L434.51 396.6" stroke="#ff0000" stroke-width="1.5"/><path d="M430.41 391.6L438.61 391.6M430.41 396.6L438.61 396.6" stroke="#ff0000" stroke-width="1.8"/>
<circle cx="434.51" cy="394.1" r="3.9" fill="rgba(255,0,0,0.25)" stroke="#ff0000" stroke-width="1.8"/>

<circle cx="533.02" cy="391.3" r="3.9" fill="rgba(255,0,0,0.25)" stroke="#ff0000" stroke-width="1.8"/>

<circle cx="736.91" cy="388.4" r="3.9" fill="rgba(255,0,0,0.25)" stroke="#ff0000" stroke-width="1.8"/>

<circle cx="917.74" cy="388.4" r="3.9" fill="rgba(255,0,0,0.25)" stroke="#ff0000" stroke-width="1.8"/>
</g>
<rect x="560.2" y="544.2" width="392.8" height="98.1" rx="6" fill="rgba(255,255,255,0.8)" stroke="#dddddd" stroke-width="3.2"/>
<path d="M572 568.2L604.4 568.2" stroke="#ff0000" stroke-width="2.4" stroke-dasharray="8.3 4.8"/>
<path d="M572 613.2L604.4 613.2" stroke="#0000ff" stroke-width="2.4" stroke-dasharray="8.3 4.8"/>
<path d="M801.4 552.4L801.4 584.5" stroke="#ff0000" stroke-width="1.3"/><path d="M797.3 552.4L805.5 552.4M797.3 584.5L805.5 584.5" stroke="#ff0000" stroke-width="1.8"/>
<circle cx="801.4" cy="568.2" r="3.9" fill="rgba(255,0,0,0.25)" stroke="#ff0000" stroke-width="1.8"/>
<path d="M801.4 596.9L801.4 629.6" stroke="#0000ff" stroke-width="1.3"/><path d="M797.3 596.9L805.5 596.9M797.3 629.6L805.5 629.6" stroke="#0000ff" stroke-width="1.8"/>
<path d="M801.4 608.95L797.6 616.55L805.2 616.55Z" fill="rgba(0,0,255,0.4)" stroke="#0000ff" stroke-width="1.8"/>
<rect x="130.2" y="10.3" width="838.4" height="277.6" fill="none" stroke="#000" stroke-width="2"/>
<rect x="130.2" y="382" width="838.4" height="277.4" fill="none" stroke="#000" stroke-width="2"/>
<path d="M149.25 287.9L149.25 301.4M149.25 382L149.25 368.5M149.25 659.4L149.25 672.9M339.8 287.9L339.8 301.4M339.8 382L339.8 368.5M339.8 659.4L339.8 672.9M530.36 287.9L530.36 301.4M530.36 382L530.36 368.5M530.36 659.4L530.36 672.9M720.9 287.9L720.9 301.4M720.9 382L720.9 368.5M720.9 659.4L720.9 672.9M911.45 287.9L911.45 301.4M911.45 382L911.45 368.5M911.45 659.4L911.45 672.9M130.2 23L116.9 23M130.2 149.1L116.9 149.1M130.2 275.2L116.9 275.2M130.2 659.4L116.9 659.4M130.2 590.05L116.9 590.05M130.2 520.7L116.9 520.7M130.2 451.35L116.9 451.35M130.2 382L116.9 382" stroke="#000" stroke-width="3" fill="none"/>
<text x="88.83" y="31.8" font-size="29.8" text-anchor="start" >1</text>
<text x="88.83" y="157.9" font-size="29.8" text-anchor="start" >0</text>
<text x="71.42" y="284" font-size="29.8" text-anchor="start" >−1</text>
<text x="47.6" y="668.4" font-size="29.8" text-anchor="start" >0.00</text>
<text x="47.6" y="599.05" font-size="29.8" text-anchor="start" >0.25</text>
<text x="47.6" y="529.7" font-size="29.8" text-anchor="start" >0.50</text>
<text x="47.6" y="460.35" font-size="29.8" text-anchor="start" >0.75</text>
<text x="47.6" y="391" font-size="29.8" text-anchor="start" >1.00</text>
<text x="141.57" y="705.3" font-size="29.8" text-anchor="start" >0</text>
<text x="323.83" y="705.3" font-size="29.8" text-anchor="start" >10</text>
<text x="514.38" y="705.3" font-size="29.8" text-anchor="start" >20</text>
<text x="704.93" y="705.3" font-size="29.8" text-anchor="start" >30</text>
<text x="895.48" y="705.3" font-size="29.8" text-anchor="start" >40</text>
<text x="-1.3" y="23" font-size="41.5" text-anchor="start" font-weight="bold">a</text>
<text x="-1" y="381.6" font-size="41.5" text-anchor="start" font-weight="bold">b</text>
<text transform="translate(24,520.6) rotate(-90)" font-size="29.8" text-anchor="middle">T</text>
<g transform="translate(46.9,168.7) rotate(-90)"><text x="0" y="0" font-size="24" font-style="italic">σ</text><text x="16.4" y="8.2" font-size="20.6" font-style="italic">z</text></g>
<path d="M469.6 729.3L469.6 762.3M504.1 729.3L504.1 762.3" stroke="#000" stroke-width="1.8"/>
<g transform="translate(475.5,741.2) scale(1.0737,1.0952)"><path d="M0.5 1.6C0.5 0.7 1.0 0.25 1.6 0.3C2.3 0.35 2.75 0.9 2.65 1.9C2.5 4.0 2.3 6.0 1.95 7.8C1.75 9.2 1.8 10.3 2.3 11.3L1.3 11.8C0.6 10.8 0.35 9.5 0.45 8C0.55 6 0.9 4.5 0.55 2.6Z" fill="#000"/><path d="M1.5 10.8C1.9 11.8 2.8 12.3 3.8 12.3C5.6 12.3 7.2 10 8.0 7.6C8.7 5.5 9.0 3.3 8.2 2.0C7.6 1.0 6.6 0.6 5.6 0.5" stroke="#000" stroke-width="1.05" fill="none"/></g>
<text x="486.7" y="762.5" font-size="20" text-anchor="start" >b</text>
<text x="511.6" y="754.5" font-size="29.8" text-anchor="start" >(mm s</text>
<path d="M592.3 736.45H604.1" stroke="#000" stroke-width="1.45"/>
<text x="604.8" y="742.06" font-size="20.9" text-anchor="start" >1</text>
<text x="616.4" y="754.4" font-size="29.8" text-anchor="start" >)</text>
<path d="M90.14 27.97H96.32V33H90.14ZM98.95 27.97H104.54V33H98.95ZM90.14 280.17H96.32V285.2H90.14ZM98.95 280.17H104.54V285.2H98.95ZM48.91 387.17H55.09V392.2H48.91ZM57.73 387.17H63.32V392.2H57.73ZM325.14 701.47H331.33V706.5H325.14ZM333.96 701.47H339.55V706.5H333.96ZM605.72 738.9H610.06V743.26H605.72ZM611.9 738.9H615.82V743.26H611.9Z" fill="#fff"/>
<g transform="translate(575.7,187.3) scale(1.0000,0.9921)"><path d="M0.5 1.6C0.5 0.7 1.0 0.25 1.6 0.3C2.3 0.35 2.75 0.9 2.65 1.9C2.5 4.0 2.3 6.0 1.95 7.8C1.75 9.2 1.8 10.3 2.3 11.3L1.3 11.8C0.6 10.8 0.35 9.5 0.45 8C0.55 6 0.9 4.5 0.55 2.6Z" fill="#000"/><path d="M1.5 10.8C1.9 11.8 2.8 12.3 3.8 12.3C5.6 12.3 7.2 10 8.0 7.6C8.7 5.5 9.0 3.3 8.2 2.0C7.6 1.0 6.6 0.6 5.6 0.5" stroke="#000" stroke-width="1.05" fill="none"/></g>
<text x="584.94" y="207.4" font-size="16.5" text-anchor="start" >b, th</text>
<path d="M624.7 187.4L637.2 192.9L624.7 198.4" stroke="#000" stroke-width="1.9" fill="none" stroke-linejoin="miter" stroke-miterlimit="10"/>
<text x="644.9" y="199.35" font-size="24.9" text-anchor="start" >0</text>
<g transform="translate(575.7,234.2) scale(1.0000,1.0000)"><path d="M0.5 1.6C0.5 0.7 1.0 0.25 1.6 0.3C2.3 0.35 2.75 0.9 2.65 1.9C2.5 4.0 2.3 6.0 1.95 7.8C1.75 9.2 1.8 10.3 2.3 11.3L1.3 11.8C0.6 10.8 0.35 9.5 0.45 8C0.55 6 0.9 4.5 0.55 2.6Z" fill="#000"/><path d="M1.5 10.8C1.9 11.8 2.8 12.3 3.8 12.3C5.6 12.3 7.2 10 8.0 7.6C8.7 5.5 9.0 3.3 8.2 2.0C7.6 1.0 6.6 0.6 5.6 0.5" stroke="#000" stroke-width="1.05" fill="none"/></g>
<text x="584.94" y="254.6" font-size="16.5" text-anchor="start" >b, th</text>
<path d="M637.7 234.4L625.7 239.9L637.7 245.4" stroke="#000" stroke-width="1.9" fill="none" stroke-linejoin="miter" stroke-miterlimit="10"/>
<text x="644.9" y="246.55" font-size="24.9" text-anchor="start" >0</text>
<g transform="translate(849.7,185) scale(0.9895,0.9921)"><path d="M0.5 1.6C0.5 0.7 1.0 0.25 1.6 0.3C2.3 0.35 2.75 0.9 2.65 1.9C2.5 4.0 2.3 6.0 1.95 7.8C1.75 9.2 1.8 10.3 2.3 11.3L1.3 11.8C0.6 10.8 0.35 9.5 0.45 8C0.55 6 0.9 4.5 0.55 2.6Z" fill="#000"/><path d="M1.5 10.8C1.9 11.8 2.8 12.3 3.8 12.3C5.6 12.3 7.2 10 8.0 7.6C8.7 5.5 9.0 3.3 8.2 2.0C7.6 1.0 6.6 0.6 5.6 0.5" stroke="#000" stroke-width="1.05" fill="none"/></g>
<text x="859.1" y="205.4" font-size="16.5" text-anchor="start" >b</text>
<path d="M874.1 185.9L886.4 191.25L874.1 196.6" stroke="#000" stroke-width="1.9" fill="none" stroke-linejoin="miter" stroke-miterlimit="10"/>
<text x="894.8" y="197.55" font-size="24.9" text-anchor="start" >0</text>
<g transform="translate(849.7,230.3) scale(0.9895,0.9921)"><path d="M0.5 1.6C0.5 0.7 1.0 0.25 1.6 0.3C2.3 0.35 2.75 0.9 2.65 1.9C2.5 4.0 2.3 6.0 1.95 7.8C1.75 9.2 1.8 10.3 2.3 11.3L1.3 11.8C0.6 10.8 0.35 9.5 0.45 8C0.55 6 0.9 4.5 0.55 2.6Z" fill="#000"/><path d="M1.5 10.8C1.9 11.8 2.8 12.3 3.8 12.3C5.6 12.3 7.2 10 8.0 7.6C8.7 5.5 9.0 3.3 8.2 2.0C7.6 1.0 6.6 0.6 5.6 0.5" stroke="#000" stroke-width="1.05" fill="none"/></g>
<text x="859.1" y="250.5" font-size="16.5" text-anchor="start" >b</text>
<path d="M887.2 230.4L875.4 236.05L887.2 241.7" stroke="#000" stroke-width="1.9" fill="none" stroke-linejoin="miter" stroke-miterlimit="10"/>
<text x="894.8" y="242.65" font-size="24.9" text-anchor="start" >0</text>
<g transform="translate(617.3,561.3) scale(0.9684,1.0000)"><path d="M0.5 1.6C0.5 0.7 1.0 0.25 1.6 0.3C2.3 0.35 2.75 0.9 2.65 1.9C2.5 4.0 2.3 6.0 1.95 7.8C1.75 9.2 1.8 10.3 2.3 11.3L1.3 11.8C0.6 10.8 0.35 9.5 0.45 8C0.55 6 0.9 4.5 0.55 2.6Z" fill="#000"/><path d="M1.5 10.8C1.9 11.8 2.8 12.3 3.8 12.3C5.6 12.3 7.2 10 8.0 7.6C8.7 5.5 9.0 3.3 8.2 2.0C7.6 1.0 6.6 0.6 5.6 0.5" stroke="#000" stroke-width="1.05" fill="none"/></g>
<text x="626.8" y="581.4" font-size="16.5" text-anchor="start" >crit, R</text>
<g transform="translate(617.3,605.8) scale(0.9684,0.9921)"><path d="M0.5 1.6C0.5 0.7 1.0 0.25 1.6 0.3C2.3 0.35 2.75 0.9 2.65 1.9C2.5 4.0 2.3 6.0 1.95 7.8C1.75 9.2 1.8 10.3 2.3 11.3L1.3 11.8C0.6 10.8 0.35 9.5 0.45 8C0.55 6 0.9 4.5 0.55 2.6Z" fill="#000"/><path d="M1.5 10.8C1.9 11.8 2.8 12.3 3.8 12.3C5.6 12.3 7.2 10 8.0 7.6C8.7 5.5 9.0 3.3 8.2 2.0C7.6 1.0 6.6 0.6 5.6 0.5" stroke="#000" stroke-width="1.05" fill="none"/></g>
<text x="626.8" y="625.9" font-size="16.5" text-anchor="start" >crit, L</text>
<g transform="translate(862.7,558) scale(0.9368,0.9921)"><path d="M0.5 1.6C0.5 0.7 1.0 0.25 1.6 0.3C2.3 0.35 2.75 0.9 2.65 1.9C2.5 4.0 2.3 6.0 1.95 7.8C1.75 9.2 1.8 10.3 2.3 11.3L1.3 11.8C0.6 10.8 0.35 9.5 0.45 8C0.55 6 0.9 4.5 0.55 2.6Z" fill="#000"/><path d="M1.5 10.8C1.9 11.8 2.8 12.3 3.8 12.3C5.6 12.3 7.2 10 8.0 7.6C8.7 5.5 9.0 3.3 8.2 2.0C7.6 1.0 6.6 0.6 5.6 0.5" stroke="#000" stroke-width="1.05" fill="none"/></g>
<text x="871.6" y="578.7" font-size="16.5" text-anchor="start" >b</text>
<path d="M886.6 558.9L899.4 564.25L886.6 569.6" stroke="#000" stroke-width="1.9" fill="none" stroke-linejoin="miter" stroke-miterlimit="10"/>
<text x="907.3" y="571.05" font-size="24.9" text-anchor="start" >0</text>
<g transform="translate(862.7,603.2) scale(0.9368,0.9921)"><path d="M0.5 1.6C0.5 0.7 1.0 0.25 1.6 0.3C2.3 0.35 2.75 0.9 2.65 1.9C2.5 4.0 2.3 6.0 1.95 7.8C1.75 9.2 1.8 10.3 2.3 11.3L1.3 11.8C0.6 10.8 0.35 9.5 0.45 8C0.55 6 0.9 4.5 0.55 2.6Z" fill="#000"/><path d="M1.5 10.8C1.9 11.8 2.8 12.3 3.8 12.3C5.6 12.3 7.2 10 8.0 7.6C8.7 5.5 9.0 3.3 8.2 2.0C7.6 1.0 6.6 0.6 5.6 0.5" stroke="#000" stroke-width="1.05" fill="none"/></g>
<text x="871.6" y="623.8" font-size="16.5" text-anchor="start" >b</text>
<path d="M900.2 603.9L887.4 609.3L900.2 614.7" stroke="#000" stroke-width="1.9" fill="none" stroke-linejoin="miter" stroke-miterlimit="10"/>
<text x="907.3" y="615.85" font-size="24.9" text-anchor="start" >0</text>
</svg></body></html>
